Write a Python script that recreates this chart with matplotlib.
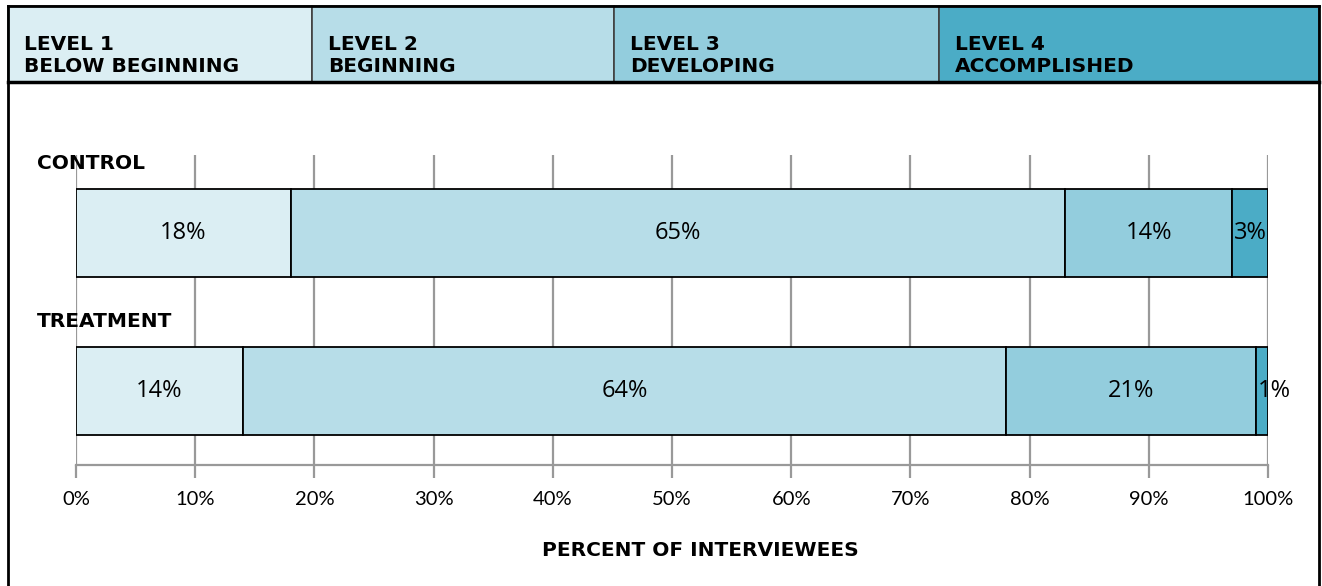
import matplotlib.pyplot as plt
import matplotlib.patches as patches
from matplotlib.transforms import blended_transform_factory

# data
groups = ["CONTROL", "TREATMENT"]
level_names = ["LEVEL 1\nBELOW BEGINNING", "LEVEL 2\nBEGINNING",
               "LEVEL 3\nDEVELOPING", "LEVEL 4\nACCOMPLISHED"]
level1 = [18, 14]
level2 = [65, 64]
level3 = [14, 21]
level4 = [3, 1]
ticks = [0, 10, 20, 30, 40, 50, 60, 70, 80, 90, 100]

colors = ["#dbeef3", "#b7dde8", "#93cddd", "#4bacc6"]
W, H = 1322, 586
bold_font = ["DejaVu Sans"]

plt.rcParams['font.family'] = ['Lato', 'DejaVu Sans']

fig = plt.figure(figsize=(W / 100, H / 100), dpi=100)

# header band with the level key
cells = [(8, 312), (312, 614), (614, 939), (939, 1319)]
top, bot = 6, 82
for (x0, x1), c, name in zip(cells, colors, level_names):
    fig.patches.append(patches.Rectangle((x0 / W, 1 - bot / H), (x1 - x0) / W, (bot - top) / H,
                                         transform=fig.transFigure, facecolor=c,
                                         edgecolor="#404040", linewidth=1.2))
    fig.text((x0 + 16) / W, 1 - 55 / H, name, ha="left", va="center",
             fontsize=14.5, fontweight="bold", fontfamily=bold_font,
             color="black", linespacing=1.2)

# outer frame
fig.add_artist(plt.Line2D([8 / W, 8 / W], [0, 1 - top / H], color="black", lw=2))
fig.add_artist(plt.Line2D([1319 / W, 1319 / W], [0, 1 - top / H], color="black", lw=2))
fig.add_artist(plt.Line2D([8 / W, 1319 / W], [1 - top / H, 1 - top / H], color="black", lw=2))
fig.add_artist(plt.Line2D([8 / W, 1319 / W], [1 - bot / H, 1 - bot / H], color="black", lw=2.5))

ax = fig.add_axes([76 / W, 1 - 465 / H, 1192 / W, 310 / H])

series = [level1, level2, level3, level4]
ypos = range(len(groups))
left = [0] * len(groups)
for vals, c in zip(series, colors):
    ax.barh(ypos, vals, left=left, height=0.557, color=c, edgecolor="black",
            linewidth=1.3, zorder=3)
    for i, v in enumerate(vals):
        # very thin segments get their label pushed a bit to the right
        nudge = 12 if v < 2 else 0
        ax.annotate(f"{v}%", (left[i] + v / 2, i), xytext=(nudge, 0),
                    textcoords="offset pixels", ha="center", va="center",
                    fontsize=17, fontfamily=["Open Sans", "DejaVu Sans"], zorder=4)
    left = [l + v for l, v in zip(left, vals)]

ax.set_xlim(0, 100)
ax.set_ylim(1.468, -0.494)
ax.set_xticks(ticks)
ax.set_xticklabels([f"{t}%" for t in ticks], fontsize=14.5)
ax.set_yticks([])
ax.grid(axis="x", color="#999999", linewidth=1.6, zorder=0)
for s in ["top", "right", "left"]:
    ax.spines[s].set_visible(False)
ax.spines["bottom"].set_color("#999999")
ax.spines["bottom"].set_linewidth(1.6)
ax.tick_params(axis="x", length=9, width=1.6, color="#999999", pad=10)

trans = blended_transform_factory(ax.transAxes, ax.transData)
for i, g in enumerate(groups):
    ax.text(-0.0327, i - 0.443, g, transform=trans, ha="left", va="center",
            fontsize=14.5, fontweight="bold", fontfamily=bold_font, zorder=5)

fig.text(700 / W, 1 - 550 / H, "PERCENT OF INTERVIEWEES", ha="center", va="center",
         fontsize=14.5, fontweight="bold", fontfamily=bold_font)

fig.savefig("out.png", dpi=100)
